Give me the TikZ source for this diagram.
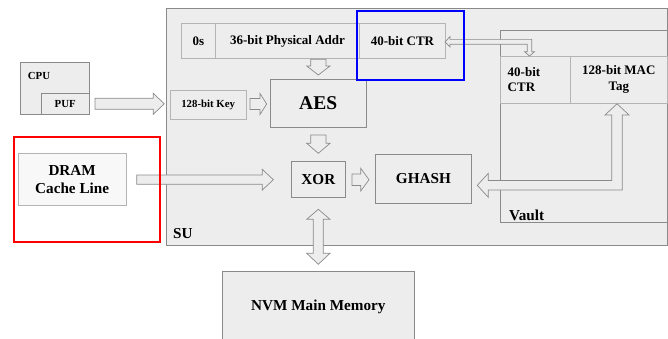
\documentclass[tikz,border=0pt]{standalone}
\usepackage{fontspec}
\setmainfont{Liberation Serif}
\usepackage{tikz}

\definecolor{boxgray}{HTML}{EDEDED}
\definecolor{linegray}{HTML}{8A8A8A}
\definecolor{cellline}{HTML}{B4B4B4}

\tikzset{
  box/.style={draw=linegray,fill=boxgray,rectangle,inner sep=0pt,line width=0.8pt},
  cell/.style={box,draw=cellline},
  blockarrow/.style={draw=linegray,fill=boxgray,line width=0.7pt,line join=miter},
  smalltext/.style={font=\bfseries\fontsize{10.8}{13}\selectfont},
  midtext/.style={font=\bfseries\fontsize{13}{15.6}\selectfont},
  bigtext/.style={font=\bfseries\fontsize{15.2}{18.6}\selectfont},
  hugetext/.style={font=\bfseries\fontsize{19.5}{23}\selectfont},
  lbl/.style={inner sep=0pt,anchor=west},
  hilite/.style={draw,rectangle,inner sep=0pt,line width=2.2pt}
}

\begin{document}
\begin{tikzpicture}[x=1pt,y=-1pt]
\clip (0,0) rectangle (668,339);

% security unit
\node [box,minimum width=500.3,minimum height=236.7] (su) at(416.85,126.65){};
\node [lbl,bigtext] (sulbl) at(173,233.7){SU};

\node [cell,midtext,minimum width=34.7,minimum height=35.4] (zero) at(198.35,41){0s};
\node [cell,midtext,minimum width=143.6,minimum height=35.4] (addr) at(287.5,41){36-bit Physical Addr};
\node [cell,midtext,minimum width=86.4,minimum height=35.4] (ctr) at(402.5,41){40-bit CTR};

\node [cell,smalltext,minimum width=75.7,minimum height=29] (key) at(208.15,104.5){128-bit Key};
\node [box,hugetext,minimum width=95.7,minimum height=48.4] (aes) at(318.15,103.5){AES};
\node [box,bigtext,minimum width=54.7,minimum height=35.6] (xor) at(318.35,179.5){XOR};
\node [box,bigtext,minimum width=96.2,minimum height=49.4] (ghash) at(423.4,179){GHASH};

\node [box,minimum width=167,minimum height=191.6] (vault) at(583.5,126.5){};
\node [lbl,bigtext] (vaultlbl) at(509,215.5){Vault};
\node [cell,midtext,minimum width=70.7,minimum height=47.3,text width=55.3,align=left] (vctr) at(535.35,79.65){40-bit\\CTR};
\node [cell,midtext,minimum width=96.3,minimum height=47.3,align=center] (vmac) at(618.85,79.65){128-bit MAC\\Tag};

% outside
\node [box,minimum width=69,minimum height=51.6] (cpu) at(54.8,88.5){};
\node [lbl,smalltext] (cpulbl) at(27.7,75.7){CPU};
\node [box,smalltext,minimum width=48.3,minimum height=21] (puf) at(65.15,103.8){PUF};

\node [cell,bigtext,fill=boxgray!40,minimum width=107.7,minimum height=52.4,align=center] (dram) at(72.15,179.5){DRAM\\Cache Line};
\node [box,bigtext,minimum width=191.3,minimum height=71.4] (nvm) at(318.35,306.7){NVM Main Memory};

% block arrows
\draw [blockarrow] (95,98.3) -- (153.3,98.3) -- (153.3,93.3) -- (164.3,103.8) -- (153.3,114.3) -- (153.3,109.3) -- (95,109.3) -- cycle;
\draw [blockarrow] (250,98.5) -- (260,98.5) -- (260,93.5) -- (266.7,104) -- (260,114.5) -- (260,109.5) -- (250,109.5) -- cycle;
\draw [blockarrow] (310.7,59.3) -- (326,59.3) -- (326,66) -- (330,66) -- (318.3,75) -- (306.7,66) -- (310.7,66) -- cycle;
\draw [blockarrow] (310.7,135) -- (326,135) -- (326,143.3) -- (330,143.3) -- (318.3,153.3) -- (306.7,143.3) -- (310.7,143.3) -- cycle;
\draw [blockarrow] (136.7,175) -- (262.3,175) -- (262.3,169.3) -- (273.3,179.7) -- (262.3,190) -- (262.3,184.3) -- (136.7,184.3) -- cycle;
\draw [blockarrow] (352,174) -- (360.7,174) -- (360.7,168.3) -- (369,179.7) -- (360.7,191) -- (360.7,185.4) -- (352,185.4) -- cycle;
\draw [blockarrow] (318.3,209.3) -- (330,219.3) -- (323.3,219.3) -- (323.3,253.3) -- (330,253.3) -- (318.3,264.3) -- (306.7,253.3) -- (313.3,253.3) -- (313.3,219.3) -- (306.7,219.3) -- cycle;
\draw [blockarrow] (445,41.8) -- (450,36.7) -- (450,39.4) -- (531.7,39.4) -- (531.7,51.7) -- (534.5,51.7) -- (529.5,56) -- (524.5,51.7) -- (527.3,51.7) -- (527.3,44.2) -- (450,44.2) -- (450,46.9) -- cycle;
\draw [blockarrow] (477.3,185.3) -- (488.3,173.3) -- (488.3,180.5) -- (611.7,180.5) -- (611.7,115) -- (605,115) -- (617,103.8) -- (629,115) -- (622.3,115) -- (622.3,190) -- (488.3,190) -- (488.3,197.3) -- cycle;

% highlights
\node [hilite,draw=blue,minimum width=106.7,minimum height=69.3] (hlctr) at(410.65,45.35){};
\node [hilite,draw=red,minimum width=146,minimum height=105] (hldram) at(87,189.8){};
\end{tikzpicture}
\end{document}
